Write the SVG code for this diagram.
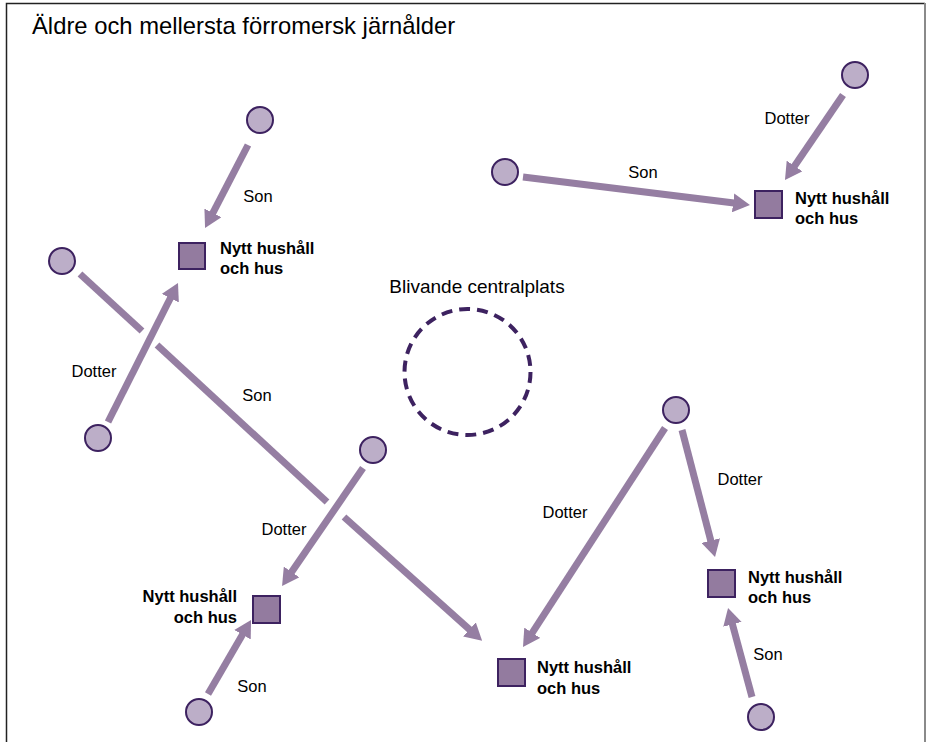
<svg xmlns="http://www.w3.org/2000/svg" width="927" height="742" viewBox="0 0 927 742">
<style>
.t{font-family:"Liberation Sans",Arial,sans-serif;fill:#000}
.lbl{font-size:16.5px;text-anchor:middle}
.hh{font-size:16.5px;font-weight:bold}
.c{fill:#bcaec8;stroke:#3d2260;stroke-width:2}
.s{fill:#937b9f;stroke:#3d2260;stroke-width:2}
.e{fill:none;stroke:#957ea2;stroke-width:7}
.a{marker-end:url(#ah)}
</style>
<defs>
<marker id="ah" markerUnits="userSpaceOnUse" markerWidth="17" markerHeight="19" viewBox="0 0 17 19" refX="1" refY="9.5" orient="auto">
<path d="M0,0 L17,9.5 L0,19 z" fill="#957ea2"/>
</marker>
</defs>
<rect x="0" y="0" width="927" height="742" fill="#fff"/>
<path d="M6.5,750 V3.5 H925" fill="none" stroke="#222" stroke-width="1.5"/>
<path d="M925,3 V750" fill="none" stroke="#8a8a8a" stroke-width="2"/>
<text class="t" x="32" y="34" font-size="23.8">Äldre och mellersta förromersk järnålder</text>

<g id="connectors">
<line class="e a" x1="248" y1="145" x2="212.4" y2="213.8"/>
<line class="e a" x1="108" y1="422" x2="170.8" y2="297.3"/>
<line class="e" x1="80" y1="274" x2="142" y2="331"/>
<line class="e" x1="157" y1="345" x2="327" y2="502"/>
<line class="e a" x1="344" y1="517" x2="470.2" y2="630.1"/>
<line class="e a" x1="363" y1="468" x2="291.1" y2="572.8"/>
<line class="e a" x1="523" y1="177" x2="734.1" y2="203"/>
<line class="e a" x1="843" y1="95" x2="794" y2="166.8"/>
<line class="e a" x1="665" y1="428" x2="531.7" y2="633.6"/>
<line class="e a" x1="682" y1="430" x2="711" y2="541.5"/>
<line class="e a" x1="208" y1="694" x2="243" y2="633.8"/>
<line class="e a" x1="752" y1="697" x2="732.2" y2="623.4"/>
<text class="t lbl" x="258" y="202">Son</text>
<text class="t lbl" x="94" y="377">Dotter</text>
<text class="t lbl" x="257" y="401">Son</text>
<text class="t lbl" x="284" y="535">Dotter</text>
<text class="t lbl" x="643" y="178">Son</text>
<text class="t lbl" x="787" y="124">Dotter</text>
<text class="t lbl" x="565" y="518">Dotter</text>
<text class="t lbl" x="740" y="485">Dotter</text>
<text class="t lbl" x="252" y="692">Son</text>
<text class="t lbl" x="768" y="660">Son</text>
</g>

<g id="centralplats">
<circle cx="467.5" cy="372" r="63" fill="none" stroke="#3d2260" stroke-width="4" stroke-dasharray="11 7"/>
<text class="t" x="477" y="293" font-size="19" text-anchor="middle">Blivande centralplats</text>
</g>

<g id="c1"><circle class="c" cx="260" cy="120" r="13"/></g>
<g id="c2"><circle class="c" cx="62" cy="261" r="13"/></g>
<g id="c3"><circle class="c" cx="98" cy="438" r="13"/></g>
<g id="c4"><circle class="c" cx="373" cy="450" r="13"/></g>
<g id="c5"><circle class="c" cx="505" cy="172" r="13"/></g>
<g id="c6"><circle class="c" cx="855" cy="75" r="13"/></g>
<g id="c7"><circle class="c" cx="676" cy="410" r="13"/></g>
<g id="c8"><circle class="c" cx="199" cy="712" r="13"/></g>
<g id="c9"><circle class="c" cx="761" cy="717" r="13"/></g>

<g id="h1"><rect class="s" x="179" y="243" width="26" height="26"/>
<text class="t hh" x="220" y="254">Nytt hushåll</text><text class="t hh" x="220" y="274">och hus</text></g>
<g id="h2"><rect class="s" x="253" y="596" width="27" height="27"/>
<text class="t hh" x="237" y="602" text-anchor="end">Nytt hushåll</text><text class="t hh" x="237" y="623" text-anchor="end">och hus</text></g>
<g id="h3"><rect class="s" x="498" y="659" width="27" height="27"/>
<text class="t hh" x="537" y="673">Nytt hushåll</text><text class="t hh" x="537" y="694">och hus</text></g>
<g id="h4"><rect class="s" x="755" y="191" width="27" height="27"/>
<text class="t hh" x="795" y="204">Nytt hushåll</text><text class="t hh" x="795" y="224">och hus</text></g>
<g id="h5"><rect class="s" x="708" y="570" width="27" height="27"/>
<text class="t hh" x="748" y="583">Nytt hushåll</text><text class="t hh" x="748" y="603">och hus</text></g>
</svg>
